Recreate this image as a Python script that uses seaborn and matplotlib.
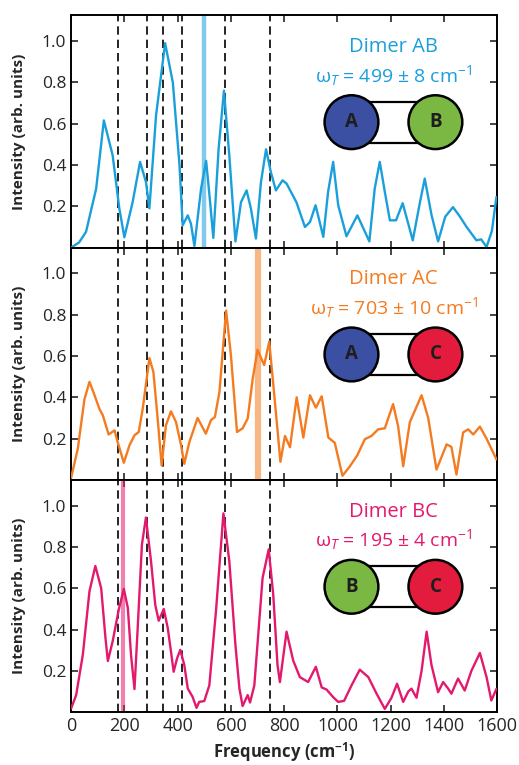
import matplotlib
matplotlib.use("Agg")
import matplotlib.pyplot as plt
import matplotlib.patches as patches
import seaborn as sns

# spectra (frequency in cm-1, intensity in arb. units)
ab_freq = [0, 30, 56, 94, 123, 156, 181, 200, 231, 259, 281, 294, 319, 353, 382, 407,
           419, 438, 450, 463, 488, 507, 522, 534, 554, 574, 594, 617, 638, 659, 675,
           694, 713, 732, 750, 769, 794, 809, 846, 878, 897, 918, 947, 965, 984, 1003,
           1034, 1075, 1120, 1140, 1159, 1178, 1197, 1220, 1245, 1283, 1310, 1328, 1353,
           1378, 1405, 1434, 1460, 1485, 1522, 1540, 1560, 1580, 1597]
ab_int = [0.0, 0.025, 0.076, 0.285, 0.616, 0.447, 0.19, 0.05, 0.22, 0.415, 0.318, 0.19,
          0.64, 0.99, 0.80, 0.40, 0.108, 0.156, 0.116, 0.008, 0.285, 0.42, 0.22, 0.047,
          0.48, 0.76, 0.447, 0.03, 0.22, 0.277, 0.19, 0.044, 0.318, 0.476, 0.366, 0.277,
          0.326, 0.31, 0.22, 0.10, 0.124, 0.205, 0.052, 0.27, 0.415, 0.205, 0.055, 0.156,
          0.03, 0.285, 0.415, 0.27, 0.132, 0.132, 0.215, 0.035, 0.22, 0.334, 0.16, 0.03,
          0.15, 0.196, 0.15, 0.1, 0.035, 0.04, 0.003, 0.08, 0.245]

ac_freq = [0, 25, 50, 69, 88, 106, 119, 141, 163, 175, 198, 219, 238, 254, 269, 294, 309,
           325, 340, 356, 375, 394, 413, 425, 444, 475, 506, 525, 540, 557, 582, 600, 623,
           644, 663, 682, 700, 725, 744, 763, 786, 803, 822, 847, 872, 897, 919, 941, 966,
           990, 1019, 1047, 1075, 1103, 1128, 1153, 1178, 1209, 1228, 1247, 1272, 1316,
           1341, 1372, 1410, 1428, 1447, 1472, 1491, 1510, 1535, 1560, 1597]
ac_int = [0.01, 0.15, 0.39, 0.475, 0.41, 0.345, 0.313, 0.22, 0.24, 0.183, 0.083, 0.167,
          0.216, 0.232, 0.345, 0.59, 0.523, 0.297, 0.07, 0.264, 0.332, 0.28, 0.167, 0.078,
          0.183, 0.30, 0.224, 0.289, 0.305, 0.426, 0.82, 0.605, 0.232, 0.25, 0.297, 0.49,
          0.63, 0.556, 0.67, 0.41, 0.088, 0.213, 0.158, 0.40, 0.205, 0.41, 0.35, 0.405,
          0.205, 0.18, 0.02, 0.066, 0.12, 0.197, 0.213, 0.245, 0.25, 0.367, 0.26, 0.066,
          0.28, 0.41, 0.30, 0.05, 0.172, 0.16, 0.026, 0.23, 0.245, 0.22, 0.258, 0.2, 0.1]

bc_freq = [0, 19, 44, 69, 91, 113, 129, 138, 156, 179, 198, 213, 225, 238, 250, 266, 281,
           300, 316, 329, 348, 363, 375, 385, 398, 410, 425, 438, 456, 471, 481, 500, 519,
           544, 572, 594, 617, 632, 644, 663, 672, 688, 719, 742, 759, 775, 784, 809, 834,
           859, 890, 919, 941, 959, 984, 1003, 1025, 1053, 1084, 1116, 1147, 1178, 1203,
           1224, 1247, 1266, 1278, 1297, 1316, 1335, 1353, 1378, 1397, 1416, 1428, 1453,
           1478, 1503, 1535, 1560, 1578, 1597]
bc_int = [0.018, 0.083, 0.278, 0.586, 0.708, 0.60, 0.36, 0.248, 0.343, 0.497, 0.597, 0.505,
          0.278, 0.112, 0.407, 0.813, 0.943, 0.732, 0.52, 0.443, 0.50, 0.407, 0.294, 0.196,
          0.261, 0.302, 0.229, 0.115, 0.075, 0.021, 0.05, 0.054, 0.13, 0.49, 0.963, 0.732,
          0.326, 0.115, 0.03, 0.083, 0.047, 0.13, 0.65, 0.789, 0.57, 0.229, 0.146, 0.39,
          0.25, 0.17, 0.146, 0.22, 0.12, 0.11, 0.073, 0.05, 0.055, 0.13, 0.206, 0.17, 0.09,
          0.016, 0.07, 0.138, 0.05, 0.1, 0.114, 0.07, 0.2, 0.39, 0.23, 0.097, 0.146, 0.114,
          0.09, 0.163, 0.105, 0.2, 0.287, 0.17, 0.057, 0.113]

# reference modes (dashed) and fitted torsion frequency per dimer
mode_lines = [177, 286, 344, 415, 578, 748]
dimer_names = ["Dimer AB", "Dimer AC", "Dimer BC"]
omega_t = [499, 703, 195]
omega_err = [8, 10, 4]
members = [("A", "B"), ("A", "C"), ("B", "C")]

line_colors = ["#1a9fdb", "#f47b20", "#e3196d"]
band_widths = [3.2, 4.5, 3.0]
atom_colors = {"A": "#3b50a2", "B": "#7bb843", "C": "#e31b3c"}

sns.set_style("ticks")
plt.rcParams["font.family"] = ["Open Sans", "DejaVu Sans"]
plt.rcParams["mathtext.fontset"] = "custom"
plt.rcParams["mathtext.rm"] = "Open Sans"
plt.rcParams["mathtext.it"] = "Open Sans:italic"
plt.rcParams["mathtext.bf"] = "Open Sans:bold"

fig, axes = plt.subplots(3, 1, figsize=(5.19, 7.65), dpi=100, sharex=True)
fig.subplots_adjust(left=0.137, right=0.958, top=0.980, bottom=0.069, hspace=0)

spectra = [(ab_freq, ab_int), (ac_freq, ac_int), (bc_freq, bc_int)]

for i, ax in enumerate(axes):
    freq, inten = spectra[i]
    col = line_colors[i]

    for m in mode_lines:
        ax.axvline(m, color="black", ls=(0, (5, 3)), lw=1.2, zorder=1)
    ax.axvline(omega_t[i], color=col, alpha=0.55, lw=band_widths[i], zorder=2)

    sns.lineplot(x=freq, y=inten, ax=ax, color=col, lw=1.7,
                 estimator=None, sort=False, zorder=3)

    ax.set_xlim(0, 1600)
    ax.set_ylim(0, 1.125)
    ax.set_yticks([0.2, 0.4, 0.6, 0.8, 1.0])
    ax.set_yticklabels(["0.2", "0.4", "0.6", "0.8", "1.0"], fontsize=12.5)
    ax.set_xticks(range(0, 1601, 200))
    ax.tick_params(direction="in", top=True, right=True, length=5, width=1.2)
    for sp in ax.spines.values():
        sp.set_linewidth(1.4)
        sp.set_color("black")
    ax.set_ylabel("Intensity (arb. units)", fontsize=11, fontweight="bold")
    ax.yaxis.set_label_coords(-0.106, 0.5)

    ax.text(0.757, 0.864, dimer_names[i], transform=ax.transAxes, color=col,
            fontsize=14.5, ha="center", va="center")
    ax.text(0.757, 0.742,
            r"ω$_{T}$ = %d ± %d cm$^{-1}$" % (omega_t[i], omega_err[i]),
            transform=ax.transAxes, color=col, fontsize=14, ha="center", va="center")

    # dimer sketch
    cy = 0.54
    xa, xb = 0.658, 0.855
    ax.add_patch(patches.Rectangle((xa, cy - 0.088), xb - xa, 0.176,
                                   transform=ax.transAxes, facecolor="white",
                                   edgecolor="black", lw=1.6, zorder=4))
    left, right = members[i]
    ax.scatter([xa, xb], [cy, cy], s=1500, transform=ax.transAxes,
               c=[atom_colors[left], atom_colors[right]], edgecolors="black",
               linewidths=1.8, zorder=5, clip_on=False)
    for x, lab in [(xa, left), (xb, right)]:
        ax.text(x, cy, lab, transform=ax.transAxes, fontsize=13.5, fontweight="bold",
                color="#1e1e1e", ha="center", va="center", zorder=6)
    ax.set_xlabel("")

axes[2].set_xticklabels([str(v) for v in range(0, 1601, 200)], fontsize=13)
axes[2].set_xlabel(r"Frequency (cm$^{\mathbf{-1}}$)", fontsize=12, fontweight="bold")

fig.savefig("out.png", dpi=100)
